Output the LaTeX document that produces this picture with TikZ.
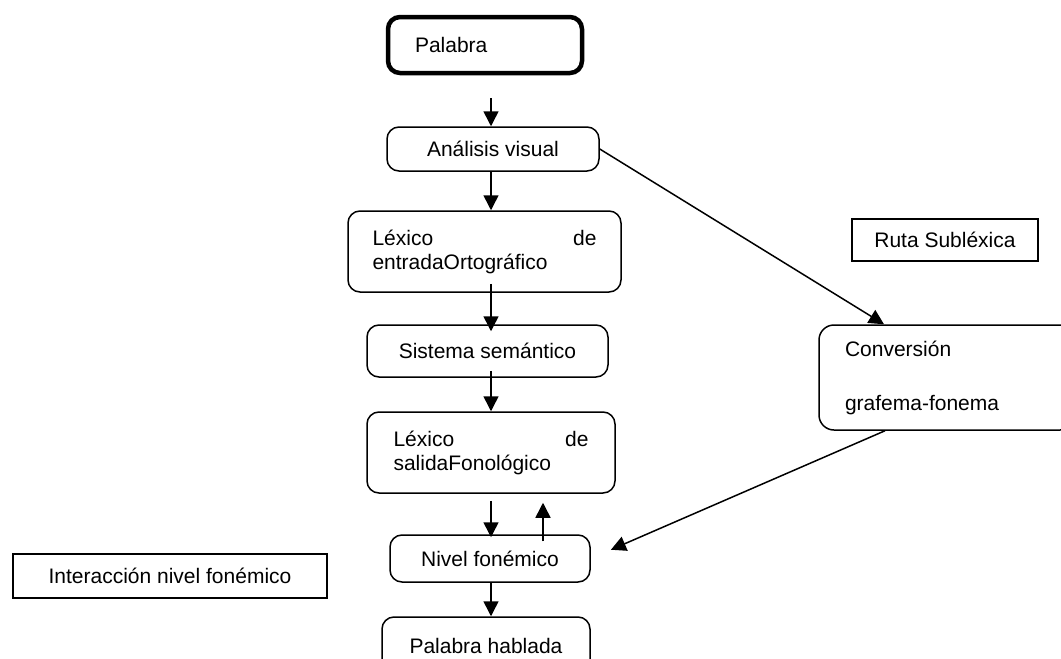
\documentclass[tikz,border=0pt]{standalone}
\usepackage{fontspec}
\setmainfont{Liberation Sans}
\usetikzlibrary{arrows.meta,positioning,calc}

\begin{document}
\begin{tikzpicture}[
  x=1pt, y=-1pt,
  font=\fontsize{21}{24}\selectfont,
  caja/.style={draw=black, line width=1.5pt, rounded corners=12pt, inner sep=0pt},
  marco/.style={draw=black, line width=1.5pt, inner sep=0pt},
  flecha/.style={-{Triangle[length=15pt,width=15pt]}, line width=1.5pt},
]
\useasboundingbox (0,0) rectangle (1061,659);
\fill[white] (0,0) rectangle (1061,659);

% ruta lexica
\node[caja, line width=4.5pt, minimum width=194pt, minimum height=56pt,
      text width=140pt, align=left] (pal) at (485,45) {Palabra};
\node[caja, minimum width=212pt, minimum height=44pt] (vis) at (493,149) {Análisis visual};
\node[caja, minimum width=273pt, minimum height=81pt, text width=224pt, align=left]
  (ent) at (484.5,251.5) {Léxico\hfill de\\entradaOrtográfico};
\node[caja, minimum width=241pt, minimum height=52pt] (sem) at (487.5,351) {Sistema semántico};
\node[caja, minimum width=248pt, minimum height=81pt, text width=195pt, align=left]
  (sal) at (491,452.5) {Léxico\hfill de\\salidaFonológico};
\node[caja, minimum width=200pt, minimum height=47pt] (niv) at (490,558.5) {Nivel fonémico};
\node[caja, minimum width=208pt, minimum height=58pt] (hab) at (486,646) {Palabra hablada};

% rotulos y ruta sublexica
\node[marco, minimum width=314pt, minimum height=44pt] (int) at (170,576) {Interacción nivel fonémico};
\node[marco, minimum width=186pt, minimum height=42pt] (ruta) at (945,240) {Ruta Subléxica};
\node[caja, rounded corners=15pt, minimum width=256pt, minimum height=105pt,
      text width=204pt, align=left] (conv) at (947,377.5) {Conversión\\[30pt]grafema-fonema};

\coordinate (eje) at (491,0);
\coordinate (eje2) at (543,0);

\draw[flecha, shorten <=23pt] (eje |- pal.south) -- (eje |- vis.north);
\draw[flecha] (eje |- vis.south) -- (eje |- ent.north);
\draw[flecha, shorten <=-9pt, shorten >=-7pt] (eje |- ent.south) -- (eje |- sem.north);
\draw[flecha, shorten <=-7pt] (eje |- sem.south) -- (eje |- sal.north);
\draw[flecha, shorten <=7pt, shorten >=-3pt] (eje |- sal.south) -- (eje |- niv.north);
\draw[flecha, shorten <=-7pt, shorten >=9pt] (eje2 |- niv.north) -- (eje2 |- sal.south);
\draw[flecha] (eje |- niv.south) -- (eje |- hab.north);

\draw[flecha] (vis.east) -- ([xshift=-63pt]conv.north);
\draw[flecha, shorten >=22pt] ([xshift=-62pt]conv.south) -- (niv.east);

\end{tikzpicture}
\end{document}
